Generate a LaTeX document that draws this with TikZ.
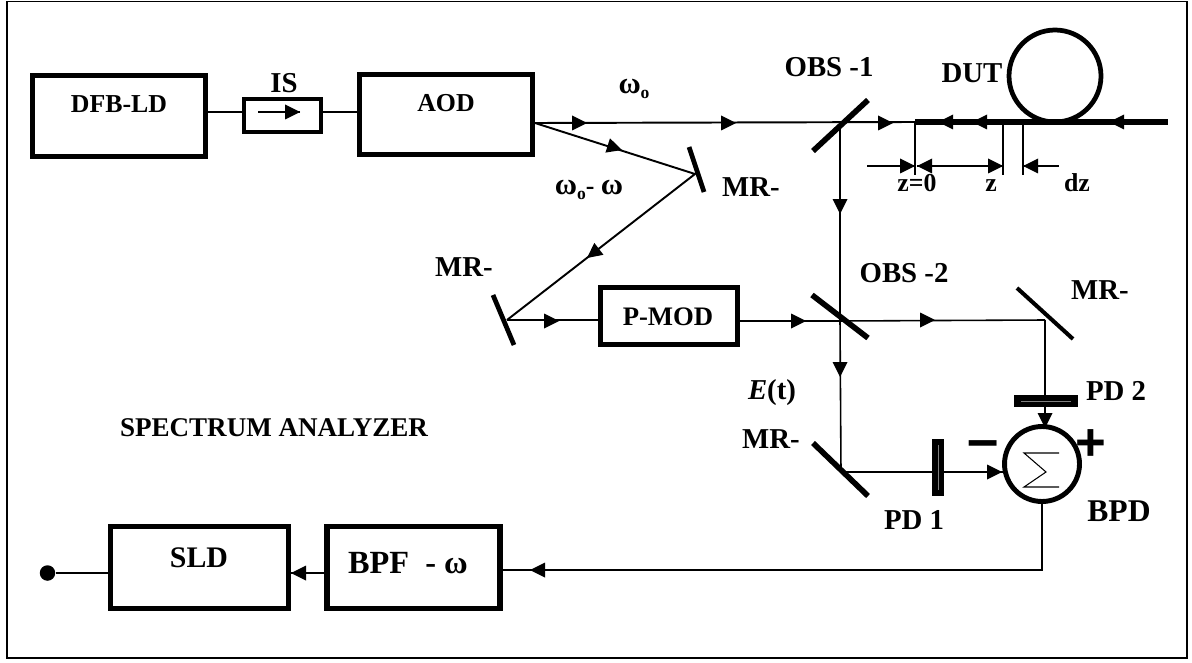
\documentclass[tikz,border=0pt]{standalone}
\usepackage{fontspec}
\setmainfont{Liberation Serif}
\newfontfamily\signfont{Liberation Sans}
\tikzset{
  blockbox/.style={draw, line width=3pt, inner sep=0pt, outer sep=0pt},
  lbl/.style={inner sep=0pt, font=\fontsize{14.7}{16}\selectfont\bfseries},
  lblbig/.style={inner sep=0pt, font=\fontsize{16.4}{18}\selectfont\bfseries},
  beam/.style={line width=0.9pt},
  fibre/.style={line width=3pt},
  tick/.style={line width=0.7pt},
  detector/.style={fill=black, inner sep=0pt, outer sep=0pt},
}
\newcommand{\omegabig}{{\fontsize{17.3}{18}\selectfont ω}}
\newcommand{\omegao}{\omegabig\raisebox{-0.35ex}{\fontsize{10}{10}\selectfont o}}
\begin{document}
\begin{tikzpicture}[x=0.02cm, y=-0.02cm]
\useasboundingbox (0,0) rectangle (1192,662);
\draw[line width=0.9pt] (7,1.5) rectangle (1187,658);

% blocks
\node[blockbox, minimum width=3.47cm, minimum height=1.62cm] (dfb) at (119,116) {};
\node[blockbox, line width=2.4pt, minimum width=1.54cm, minimum height=0.66cm] (is) at (282.5,115.5) {};
\node[blockbox, minimum width=3.46cm, minimum height=1.6cm] (aod) at (446,114.5) {};
\node[blockbox, minimum width=2.74cm, minimum height=1.14cm] (pmod) at (669,316) {};
\node[blockbox, minimum width=3.56cm, minimum height=1.64cm] (sld) at (199.5,567.5) {};
\node[blockbox, minimum width=3.46cm, minimum height=1.64cm] (bpf) at (413.5,567.5) {};
\node[draw, circle, line width=2.8pt, minimum size=1.5cm, inner sep=0pt, outer sep=0pt] (sum) at (1042,464) {};
\node[detector, minimum width=0.24cm, minimum height=1.14cm] (pda) at (938,467.5) {};
\node[detector, minimum width=1.28cm, minimum height=0.24cm] (pdb) at (1046,401) {};
\node[fill=black, circle, minimum size=0.31cm, inner sep=0pt] (out) at (47.5,573) {};

% beam points
\coordinate (isin) at (282,112);
\coordinate (isa) at (258,112);
\coordinate (isb) at (300,112);
\coordinate (aodout) at (535,123);
\coordinate (obsa) at (840,123);
\coordinate (fiba) at (915,122);
\coordinate (fibb) at (1168,122);
\coordinate (mra) at (695,174);
\coordinate (mrb) at (507,320);
\coordinate (obsb) at (840,321);
\coordinate (mrc) at (1045,320);
\coordinate (mrd) at (841,472);
\coordinate (bpfin) at (502,570);

\draw[beam] (dfb.east |- isin) -- (is.west |- isin);
\draw[beam] (is.east |- isin) -- (aod.west |- isin);
\draw[line width=1.1pt] (isa) -- (isb);
\draw[line width=1.1pt] (aodout) -- (fiba);
\draw[line width=1.1pt] (aodout) -- (mra) -- (mrb);
\draw[beam] (mrb) -- (pmod.west |- mrb);
\draw[beam] (pmod.east |- obsb) -- (obsb) -- (mrc);
\draw[beam] (obsa) -- (obsb) -- (mrd) -- (pda.west |- mrd);
\draw[beam] (pda.east |- mrd) -- (sum.west |- mrd);
\draw[line width=1.1pt] (mrc) -- (pdb.north -| mrc);
\draw[line width=1.1pt] (pdb.south -| mrc) -- (1045,428);
\draw[beam] (sum.south) |- (bpfin);
\draw[beam] (out) -- (sld.west |- out);
\draw[line width=1.1pt] (bpf.west |- out) -- (sld.east |- out);
\fill[gray] (937.5,445) rectangle (938.5,490);
\fill[gray] (1021,400.5) rectangle (1071,401.5);

% fibre under test
\draw[fibre] (fiba) -- (fibb);
\node[draw, circle, line width=2.7pt, minimum size=1.84cm, inner sep=0pt, outer sep=0pt] (dut) at (1055,76) {};
\draw[tick] (fiba) -- (915,175);
\draw[tick] (1003,122) -- (1003,175);
\draw[tick] (1023,122) -- (1023,175);
\draw[beam] (867,166) -- (915,166);
\draw[beam] (917,166) -- (1003,166);
\draw[beam] (1023,166) -- (1059,166);

% mirrors
\foreach \xa/\ya/\xb/\yb/\w in {689/147/704/192/2.7, 493/295/514/345/2.7, 813/151/868/100/3.2, 812/295/868/338/3.2, 1017/288/1073/339/2.3, 813/443/868/496/3.2}
  \draw[line width=\w pt] (\xa,\ya) -- (\xb,\yb);

% arrow tips
\foreach \x/\y/\a in {300/112/0, 587/123/0, 736/123/0, 893/123/0, 622/150/-17.6, 587/258/217.6, 559/321/0, 806/321/0, 935/320/0,
  840/214/-90, 840/377/-90, 1002/472/0, 1045/428/-90, 530/570/180, 291/573/180,
  938/122/180, 972/122/180, 1109/122/180, 915/166/0, 917/166/180, 1003/166/0, 1023/166/180}
  \fill[shift={(\x,\y)}, rotate=\a] (0,0) -- (-15,7.5) -- (-15,-7.5) -- cycle;

% sigma
\draw[line width=0.6pt] (1059,453) -- (1024,453) -- (1046,472) -- (1024,487) -- (1059,487);

% labels
\node[lbl] (ldfb) at (119,104) {DFB-LD};
\node[lblbig] (lis) at (284,83) {IS};
\node[lbl] (laod) at (446,103) {AOD};
\node[lbl, font=\fontsize{15.2}{16}\selectfont\bfseries] (lpmod) at (668,317) {P-MOD};
\node[lblbig, font=\fontsize{17}{18}\selectfont\bfseries] (lsld) at (199,558) {SLD};
\node[lbl, font=\fontsize{18.4}{20}\selectfont\bfseries] (lbpf) at (408,563) {BPF\ \ - ω};
\node[lbl] (lwa) at (634,89) {\omegao};
\node[lbl] (lwb) at (589,190) {\omegao- \omegabig};
\node[lblbig] (lmra) at (751,187) {MR-};
\node[lblbig] (lmrb) at (464,267) {MR-};
\node[lblbig] (lmrc) at (1100,290) {MR-};
\node[lblbig] (lmrd) at (771,439) {MR-};
\node[lblbig] (lobsa) at (829,67) {OBS -1};
\node[lblbig] (lobsb) at (904,273) {OBS -2};
\node[lblbig] (ldut) at (972,73) {DUT};
\node[lbl, anchor=base] (lza) at (917,192) {z=0};
\node[lbl, anchor=base] (lzb) at (991,192) {z};
\node[lbl, anchor=base] (lzc) at (1077,192) {dz};
\node[lblbig] (let) at (772,393) {\textit{E}(t)};
\node[lblbig] (lpda) at (914,520) {PD 1};
\node[lblbig] (lpdb) at (1116,391) {PD 2};
\node[lblbig, font=\fontsize{18}{20}\selectfont\bfseries] (lbpd) at (1119,511) {BPD};
\node[lbl, font=\fontsize{15.4}{16}\selectfont\bfseries] (lsa) at (274,428) {SPECTRUM ANALYZER};
\node[inner sep=0pt, font=\signfont\fontsize{32}{32}\selectfont\bfseries] (lminus) at (983,450) {–};
\node[inner sep=0pt, font=\signfont\fontsize{30}{30}\selectfont\bfseries] (lplus) at (1091,445) {+};
\end{tikzpicture}
\end{document}
